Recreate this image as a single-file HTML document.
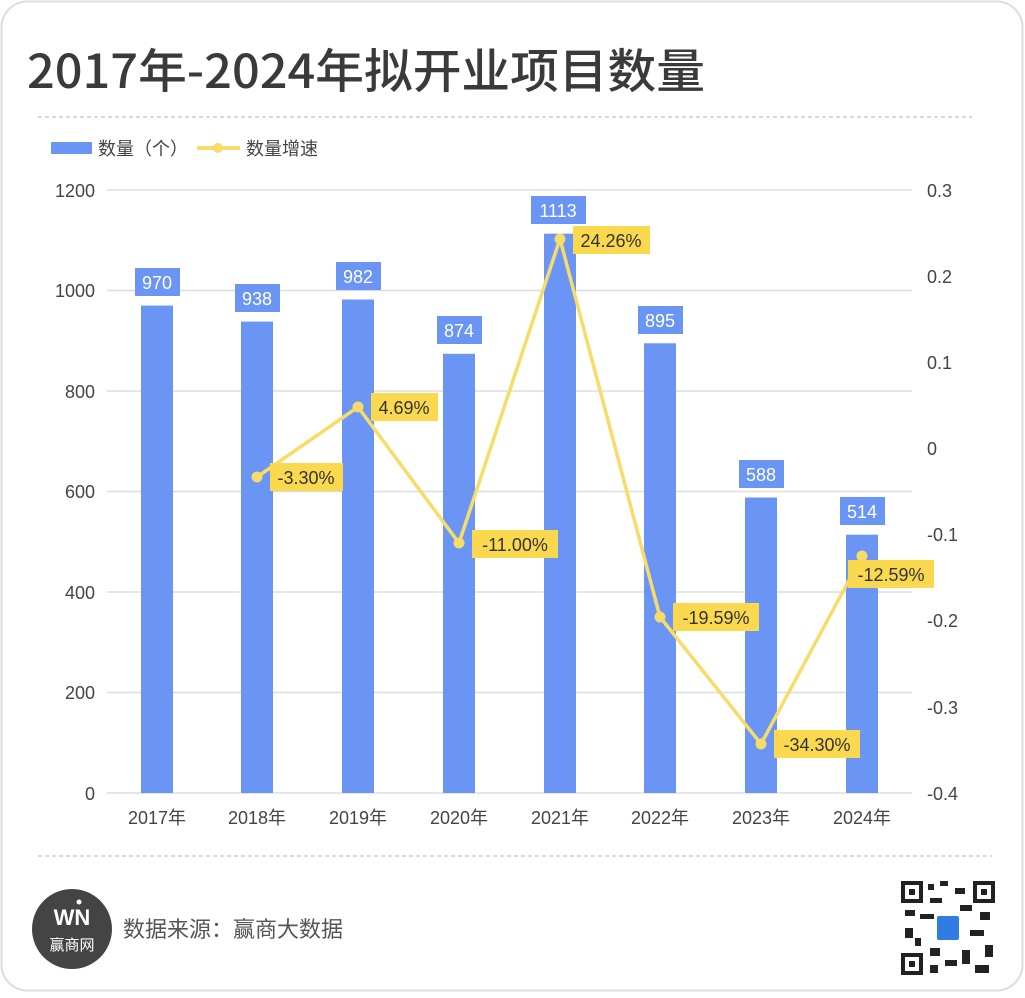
<!DOCTYPE html><html><head><meta charset="utf-8"><style>
body{margin:0;background:#fff;font-family:"Liberation Sans","Noto Sans CJK SC",sans-serif}
</style></head><body>
<svg width="1025" height="993" xmlns="http://www.w3.org/2000/svg" font-family="Liberation Sans, Noto Sans CJK SC, sans-serif">
<rect x="1.5" y="1.5" width="1021" height="989" rx="26" fill="#fff" stroke="#ddd" stroke-width="2"/>
<text x="27" y="88" font-size="47" fill="#3a3a3a" font-weight="500" font-family="Noto Sans CJK SC, sans-serif" textLength="678" lengthAdjust="spacingAndGlyphs">2017年-2024年拟开业项目数量</text>
<line x1="38" y1="117" x2="972" y2="117" stroke="#ccc" stroke-dasharray="4,3" stroke-width="1.5"/>
<line x1="38" y1="856" x2="992" y2="856" stroke="#ccc" stroke-dasharray="4,3" stroke-width="1.5"/>
<rect x="51" y="142" width="41" height="12" fill="#6a95f5"/>
<text x="98" y="155" font-size="18" fill="#444">数量（个）</text>
<line x1="197" y1="148" x2="240" y2="148" stroke="#f7dc6a" stroke-width="4"/><circle cx="218" cy="148" r="5" fill="#f7dc6a"/>
<text x="246" y="155" font-size="18" fill="#444">数量增速</text>
<g stroke="#ddd" stroke-width="1.5">
<line x1="107" y1="190" x2="912" y2="190"/><line x1="107" y1="290.5" x2="912" y2="290.5"/><line x1="107" y1="391" x2="912" y2="391"/><line x1="107" y1="491.5" x2="912" y2="491.5"/><line x1="107" y1="592" x2="912" y2="592"/><line x1="107" y1="692.5" x2="912" y2="692.5"/><line x1="107" y1="793" x2="912" y2="793"/></g>
<g font-size="18" fill="#444" text-anchor="end">
<text x="95" y="197">1200</text><text x="95" y="297">1000</text><text x="95" y="398">800</text><text x="95" y="498">600</text><text x="95" y="599">400</text><text x="95" y="699">200</text><text x="95" y="800">0</text></g>
<g font-size="18" fill="#444">
<text x="927" y="197">0.3</text><text x="927" y="283">0.2</text><text x="927" y="369">0.1</text><text x="927" y="455">0</text><text x="927" y="541">-0.1</text><text x="927" y="627">-0.2</text><text x="927" y="714">-0.3</text><text x="927" y="800">-0.4</text></g>
<g fill="#6a95f5">
<rect x="141" y="305.6" width="32" height="487.4"/><rect x="241" y="321.6" width="32" height="471.4"/><rect x="342" y="299.5" width="32" height="493.5"/><rect x="443" y="353.8" width="32" height="439.2"/><rect x="544" y="233.7" width="32" height="559.3"/><rect x="644" y="343.3" width="32" height="449.7"/><rect x="745" y="497.5" width="32" height="295.5"/><rect x="846" y="534.7" width="32" height="258.3"/></g>
<g font-size="18" fill="#444" text-anchor="middle">
<text x="157" y="824">2017年</text><text x="257" y="824">2018年</text><text x="358" y="824">2019年</text><text x="459" y="824">2020年</text><text x="560" y="824">2021年</text><text x="660" y="824">2022年</text><text x="761" y="824">2023年</text><text x="862" y="824">2024年</text></g>
<g fill="#6a95f5">
<rect x="135" y="268" width="45" height="28"/><rect x="235" y="284" width="45" height="28"/><rect x="336" y="262" width="45" height="28"/><rect x="437" y="316" width="45" height="28"/><rect x="531" y="196" width="55" height="28"/><rect x="638" y="306" width="45" height="28"/><rect x="739" y="460" width="45" height="28"/><rect x="840" y="497" width="45" height="28"/></g>
<g font-size="18" fill="#fff" text-anchor="middle">
<text x="157" y="289">970</text><text x="257" y="305">938</text><text x="358" y="283">982</text><text x="459" y="337">874</text><text x="558" y="217">1113</text><text x="660" y="327">895</text><text x="761" y="481">588</text><text x="862" y="518">514</text></g>
<polyline points="257,477 358,407 459,543 560,239 660,617 761,744 862,556" fill="none" stroke="#f7dc6a" stroke-width="3.5"/>
<g fill="#f7dc6a"><circle cx="257" cy="477" r="5.5"/><circle cx="358" cy="407" r="5.5"/><circle cx="459" cy="543" r="5.5"/><circle cx="560" cy="239" r="5.5"/><circle cx="660" cy="617" r="5.5"/><circle cx="761" cy="744" r="5.5"/><circle cx="862" cy="556" r="5.5"/></g>
<g fill="#fad94f">
<rect x="270" y="463" width="73" height="28"/><rect x="371" y="393" width="67" height="28"/><rect x="472" y="530" width="86" height="28"/><rect x="573" y="226" width="77" height="28"/><rect x="673" y="603" width="86" height="28"/><rect x="774" y="730" width="86" height="28"/><rect x="848" y="560" width="86" height="28"/></g>
<g font-size="18" fill="#333" text-anchor="middle">
<text x="306" y="484">-3.30%</text><text x="404" y="414">4.69%</text><text x="515" y="551">-11.00%</text><text x="611" y="247">24.26%</text><text x="716" y="624">-19.59%</text><text x="817" y="751">-34.30%</text><text x="891" y="581">-12.59%</text></g>
<circle cx="72" cy="929" r="40" fill="#444"/>
<circle cx="79" cy="902" r="2.5" fill="#fff"/>
<text x="72" y="925" font-size="22" font-weight="bold" fill="#fff" text-anchor="middle">WN</text>
<text x="72" y="950" font-size="15" fill="#fff" text-anchor="middle">赢商网</text>
<text x="123" y="937" font-size="22" fill="#555">数据来源：赢商大数据</text>
<rect x="901" y="881" width="94" height="94" fill="#fff"/>
<g fill="#222">
<rect x="901" y="881" width="22" height="22"/><rect x="973" y="881" width="22" height="22"/><rect x="901" y="953" width="22" height="22"/>
<rect x="928" y="884" width="6" height="6"/><rect x="940" y="881" width="8" height="5"/><rect x="955" y="888" width="10" height="6"/><rect x="930" y="898" width="12" height="5"/><rect x="905" y="910" width="10" height="6"/><rect x="920" y="914" width="14" height="5"/><rect x="960" y="905" width="12" height="6"/><rect x="980" y="912" width="10" height="8"/><rect x="905" y="928" width="8" height="10"/><rect x="970" y="930" width="14" height="6"/><rect x="985" y="945" width="8" height="12"/><rect x="930" y="948" width="10" height="8"/><rect x="945" y="960" width="12" height="6"/><rect x="962" y="950" width="8" height="14"/><rect x="975" y="965" width="14" height="8"/><rect x="930" y="965" width="8" height="8"/><rect x="915" y="938" width="6" height="8"/></g>
<g fill="#fff"><rect x="905" y="885" width="14" height="14"/><rect x="977" y="885" width="14" height="14"/><rect x="905" y="957" width="14" height="14"/></g>
<g fill="#222"><rect x="909" y="889" width="6" height="6"/><rect x="981" y="889" width="6" height="6"/><rect x="909" y="961" width="6" height="6"/></g>
<rect x="937" y="916" width="22" height="24" rx="2" fill="#2f7de1"/>
</svg>
</body></html>
